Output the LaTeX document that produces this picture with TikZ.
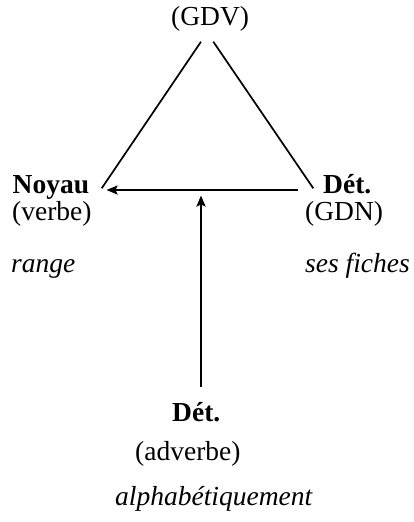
\documentclass[tikz,border=0pt]{standalone}
\usepackage{fontspec}
\setmainfont{Liberation Serif}
\usetikzlibrary{arrows.meta}
\begin{document}
\begin{tikzpicture}[x=1pt,y=-1pt,
  lbl/.style={inner sep=0pt,anchor=base west,font=\fontsize{27.5}{30}\selectfont},
  thinline/.style={line width=1.7pt},
  arr/.style={line width=2pt,-{Stealth[length=11pt,width=9pt,inset=2pt]}}]
\useasboundingbox (0,0) rectangle (413,522);
\node[lbl] (gdv) at (171,25) {(GDV)};
\node[lbl] (noyau) at (12.5,193) {\bfseries Noyau};
\node[lbl] (verbe) at (12,220) {(verbe)};
\node[lbl] (range) at (11,272) {\itshape range};
\node[lbl] (det1) at (323,193) {\bfseries Dét.};
\node[lbl] (gdn) at (305,220) {(GDN)};
\node[lbl] (fiches) at (305,272) {\itshape ses fiches};
\node[lbl] (det2) at (172,421.5) {\bfseries Dét.};
\node[lbl] (adv) at (135,460) {(adverbe)};
\node[lbl] (alpha) at (115,505) {\itshape alphabétiquement};
\coordinate (tl) at (201,41.7);
\coordinate (tr) at (213.3,41.7);
\coordinate (bl) at (101.7,188.3);
\coordinate (br) at (313.3,188.3);
\coordinate (hs) at (298.3,190);
\coordinate (he) at (106.5,190);
\coordinate (vs) at (201,387);
\coordinate (ve) at (201,195.5);
\draw[thinline] (tl) -- (bl);
\draw[thinline] (tr) -- (br);
\draw[arr] (hs) -- (he);
\draw[arr,line width=2.4pt] (vs) -- (ve);
\end{tikzpicture}
\end{document}
